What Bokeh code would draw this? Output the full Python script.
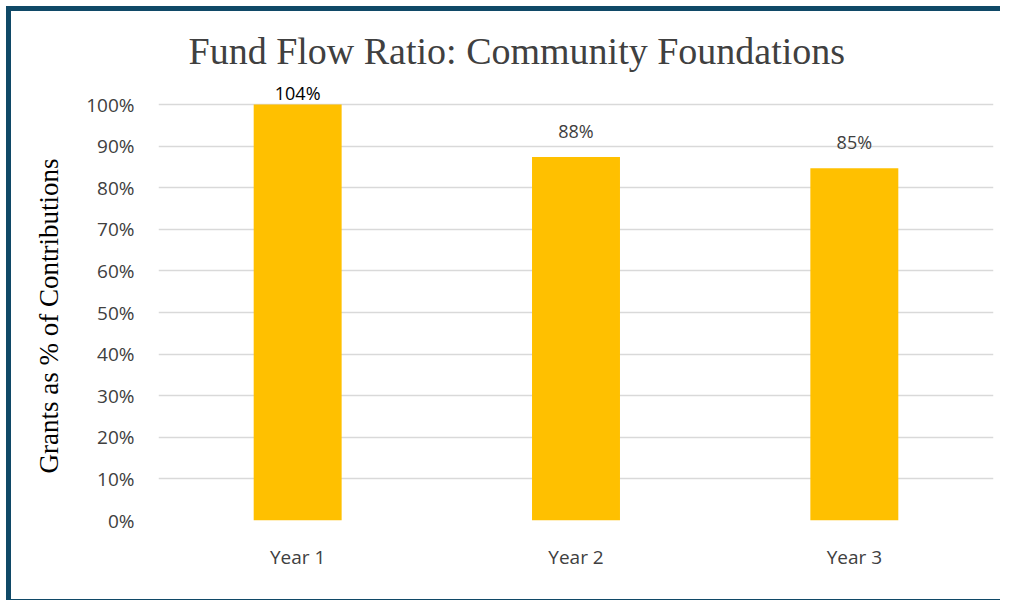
from bokeh.plotting import figure
from bokeh.models import FixedTicker, NumeralTickFormatter, ColumnDataSource, Range1d, Title
from bokeh.core.properties import value
from bokeh.embed import file_html
from bokeh.resources import INLINE

categories = ["Year 1", "Year 2", "Year 3"]
ratios = [1.04, 0.874, 0.847]
label_texts = ["104%", "88%", "85%"]
tick_values = [0.0, 0.1, 0.2, 0.3, 0.4, 0.5, 0.6, 0.7, 0.8, 0.9, 1.0]

axis_max = 1.0
bar_tops = [min(r, axis_max) for r in ratios]
overflow = [r > axis_max for r in ratios]
label_colors = ["#000000" if o else "#404040" for o in overflow]
label_offsets = [-12 if o else -26 for o in overflow]

src = ColumnDataSource(dict(x=categories, top=bar_tops, lab=label_texts,
                            col=label_colors, off=label_offsets))

p = figure(x_range=categories, y_range=Range1d(0, 1.0625),
           width=994, height=594, output_backend="svg", toolbar_location=None,
           min_border_left=147, min_border_right=12, min_border_top=67,
           min_border_bottom=85)
p.styles = {"margin-left": "6px", "margin-top": "6px",
            "border-top": "5px solid #104967", "border-left": "5px solid #104967",
            "border-bottom": "1px solid #104967"}

p.title.text = "Fund Flow Ratio: Community Foundations"
p.title.text_font = "Liberation Serif"
p.title.text_font_size = "38px"
p.title.text_font_style = "normal"
p.title.text_color = "#404040"
p.title.align = "left"
p.title.offset = 30
p.title.standoff = 13

ylab = Title(text="Grants as % of Contributions", align="left", offset=47,
             text_font="Liberation Serif", text_font_size="27px",
             text_font_style="normal", text_color="#000000", standoff=40)

p.vbar(x="x", top="top", width=0.316, source=src, color="#FFC000", line_color=None)
p.text(x="x", y="top", text="lab", source=src, text_color="col", y_offset="off",
       text_align="center", text_baseline="middle", text_font=value("Open Sans"),
       text_font_size="18px")

p.outline_line_color = None
p.xgrid.grid_line_color = None
p.ygrid.grid_line_color = "#d9d9d9"
p.ygrid.grid_line_width = 1.5
p.ygrid.ticker = FixedTicker(ticks=tick_values)

p.yaxis.ticker = FixedTicker(ticks=tick_values)
p.yaxis.formatter = NumeralTickFormatter(format="0%")
p.yaxis.axis_line_color = None
p.yaxis.major_tick_line_color = None
p.yaxis.minor_tick_line_color = None
p.yaxis.major_label_text_font = "Open Sans"
p.yaxis.major_label_text_font_size = "19px"
p.yaxis.major_label_text_color = "#404040"
p.yaxis.major_label_standoff = 18

p.add_layout(ylab, "left")

p.xaxis.axis_line_color = None
p.xaxis.major_tick_line_color = None
p.xaxis.minor_tick_line_color = None
p.xaxis.major_label_text_font = "Open Sans"
p.xaxis.major_label_text_font_size = "19px"
p.xaxis.major_label_text_color = "#404040"
p.xaxis.major_label_standoff = 17

open("out.html", "w").write(file_html(p, INLINE))
